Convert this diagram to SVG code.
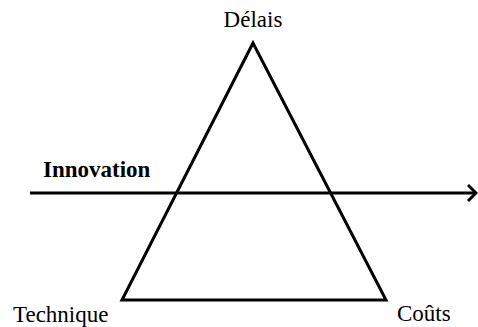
<svg xmlns="http://www.w3.org/2000/svg" width="478" height="327" viewBox="0 0 478 327">
<style>
.lbl{font-family:"Liberation Serif","Times New Roman",serif;font-size:23px;fill:#000}
.bold{font-weight:bold}
.ln{fill:none;stroke:#000;stroke-width:3}
</style>
<rect width="478" height="327" fill="#fff"/>
<g id="triangle">
<polygon class="ln" points="253,43 122,300 386,300" stroke-linejoin="miter"/>
</g>
<g id="delais"><text class="lbl" x="253" y="27" text-anchor="middle">Délais</text></g>
<g id="technique"><text class="lbl" x="13" y="322">Technique</text></g>
<g id="couts"><text class="lbl" x="397" y="321">Coûts</text></g>
<g id="innovation"><text class="lbl bold" x="43" y="177">Innovation</text></g>
<g id="connectors">
<line class="ln" x1="30" y1="193" x2="476" y2="193"/>
<polyline class="ln" points="468,185 476,193 468,201" stroke-linejoin="miter"/>
</g>
</svg>
